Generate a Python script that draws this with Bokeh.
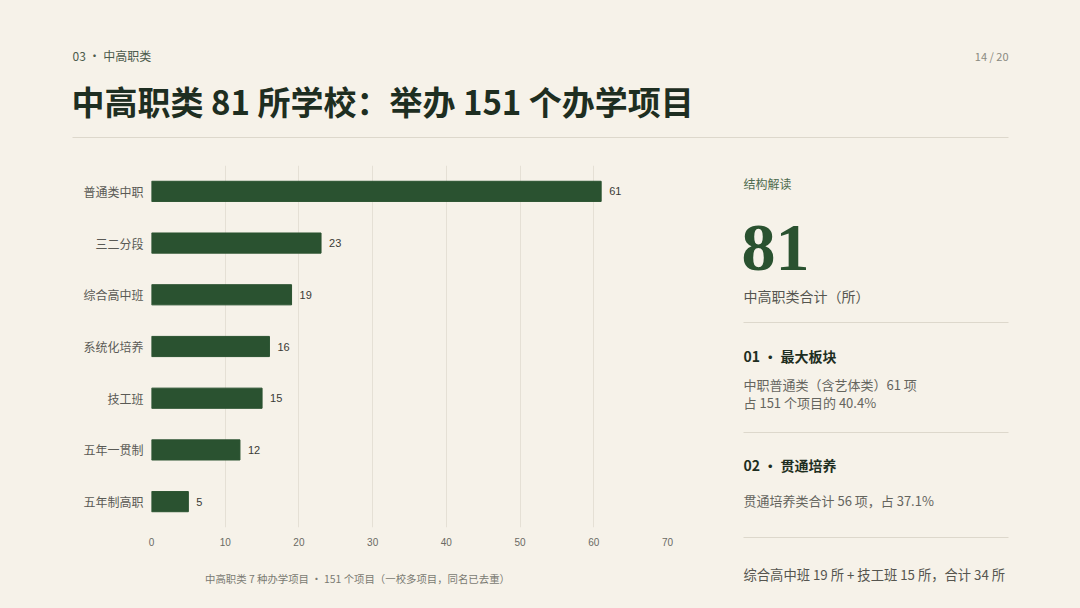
from bokeh.plotting import figure
from bokeh.layouts import row, column
from bokeh.models import Range1d, FactorRange, FixedTicker
from bokeh.core.properties import value
from bokeh.embed import file_html
from bokeh.resources import INLINE

# data
categories = ["普通类中职", "三二分段", "综合高中班", "系统化培养", "技工班", "五年一贯制", "五年制高职"]
counts = [61, 23, 19, 16, 15, 12, 5]
x_ticks = [0, 10, 20, 30, 40, 50, 60, 70]

section = "03 · 中高职类"
page_no = "14 / 20"
headline = "中高职类 81 所学校：举办 151 个办学项目"
caption = "中高职类 7 种办学项目 · 151 个项目（一校多项目，同名已去重）"
total_schools = "81"
total_label = "中高职类合计（所）"
note1_title = "01 · 最大板块"
note1_lines = ["中职普通类（含艺体类）61 项", "占 151 个项目的 40.4%"]
note2_title = "02 · 贯通培养"
note2_lines = ["贯通培养类合计 56 项，占 37.1%"]
note3 = "综合高中班 19 所 + 技工班 15 所，合计 34 所"

BG = "#F6F2E9"
GREEN = "#2A5230"
DARK = "#1E2E21"
RULE = "#DDD8CC"
CJK = value("Noto Sans CJK SC")


def blank(w, h, left=0, right=0):
    # pixel-unit canvas; x range follows the page position of the frame
    f = figure(width=w, height=h, x_range=Range1d(left, w - right), y_range=Range1d(h, 0),
               x_axis_location=None, y_axis_location=None,
               output_backend="svg", toolbar_location=None, min_border=0,
               min_border_left=left, min_border_right=right)
    f.grid.visible = False
    f.outline_line_color = None
    f.background_fill_color = BG
    f.border_fill_color = BG
    return f


def txt(f, x, y, s, size, color, bold=False, align="left", baseline="middle", font=CJK):
    f.text(x=[x], y=[y], text=[s], text_font=font, text_font_size=size,
           text_color=color, text_font_style="bold" if bold else "normal",
           text_align=align, text_baseline=baseline)


# header (page y 0 -> 165)
head = blank(1080, 165)
txt(head, 72, 55, section, "12px", "#4B5A4B")
txt(head, 1008, 55, page_no, "11px", "#8A8A80", align="right")
txt(head, 71, 100, headline, "33px", DARK, bold=True)
head.line([72, 1008], [137, 137], line_color=RULE, line_width=1.2)

# bar chart (page x 0 -> 720, y 165 -> 557)
p = figure(width=720, height=392, x_range=Range1d(0, 70),
           y_range=FactorRange(factors=list(reversed(categories))),
           output_backend="svg", toolbar_location=None,
           min_border_left=151, min_border_right=53, min_border_top=0, min_border_bottom=30)
p.background_fill_color = BG
p.border_fill_color = BG
p.outline_line_color = None
p.hbar(y=categories, right=counts, height=0.39, left=0, color=GREEN)
p.text(x=counts, y=categories, text=[str(c) for c in counts], x_offset=8,
       text_font=value("Liberation Sans"), text_font_size="11px", text_color="#3A3A36",
       text_baseline="middle")
p.ygrid.grid_line_color = None
p.xgrid.grid_line_color = "#E5E0D5"
p.xgrid.ticker = FixedTicker(ticks=x_ticks)
p.xaxis.ticker = FixedTicker(ticks=x_ticks)
p.xaxis.axis_line_color = None
p.xaxis.major_tick_line_color = None
p.xaxis.minor_tick_line_color = None
p.xaxis.major_label_text_font = "Liberation Sans"
p.xaxis.major_label_text_font_size = "10px"
p.xaxis.major_label_text_color = "#6A6A64"
p.xaxis.major_label_standoff = 4
p.yaxis.axis_line_color = None
p.yaxis.major_tick_line_color = None
p.yaxis.minor_tick_line_color = None
p.yaxis.major_label_text_font = "Noto Sans CJK SC"
p.yaxis.major_label_text_font_size = "12px"
p.yaxis.major_label_text_color = "#5A5A55"
p.yaxis.major_label_standoff = 2

# caption (page y 557 -> 608), frame lined up with the chart frame
foot = blank(720, 51, left=151, right=53)
txt(foot, 357, 21, caption, "10.4px", "#7A7A72", align="center")

# right panel (page x 720 -> 1080, y 165 -> 608)
side = blank(360, 443)
txt(side, 23, 18, "结构解读", "12px", "#4E6B4E")
txt(side, 21, 82, total_schools, "68px", GREEN, bold=True, font=value("Liberation Serif"))
txt(side, 23, 130, total_label, "14px", "#55554F")
side.line([23, 288], [157, 157], line_color=RULE, line_width=1.2)
txt(side, 23, 190, note1_title, "14px", DARK, bold=True)
txt(side, 23, 219, note1_lines[0], "13px", "#65655E")
txt(side, 23, 237, note1_lines[1], "13px", "#65655E")
side.line([23, 288], [267, 267], line_color=RULE, line_width=1.2)
txt(side, 23, 299, note2_title, "14px", DARK, bold=True)
txt(side, 23, 335, note2_lines[0], "13px", "#65655E")
side.line([23, 288], [372, 372], line_color=RULE, line_width=1.2)
txt(side, 23, 409, note3, "13.3px", "#55554F")

layout = column(head, row(column(p, foot), side))

html = file_html(layout, INLINE)
html = html.replace("<body>", '<body style="background:%s">' % BG)
open("out.html", "w").write(html)
